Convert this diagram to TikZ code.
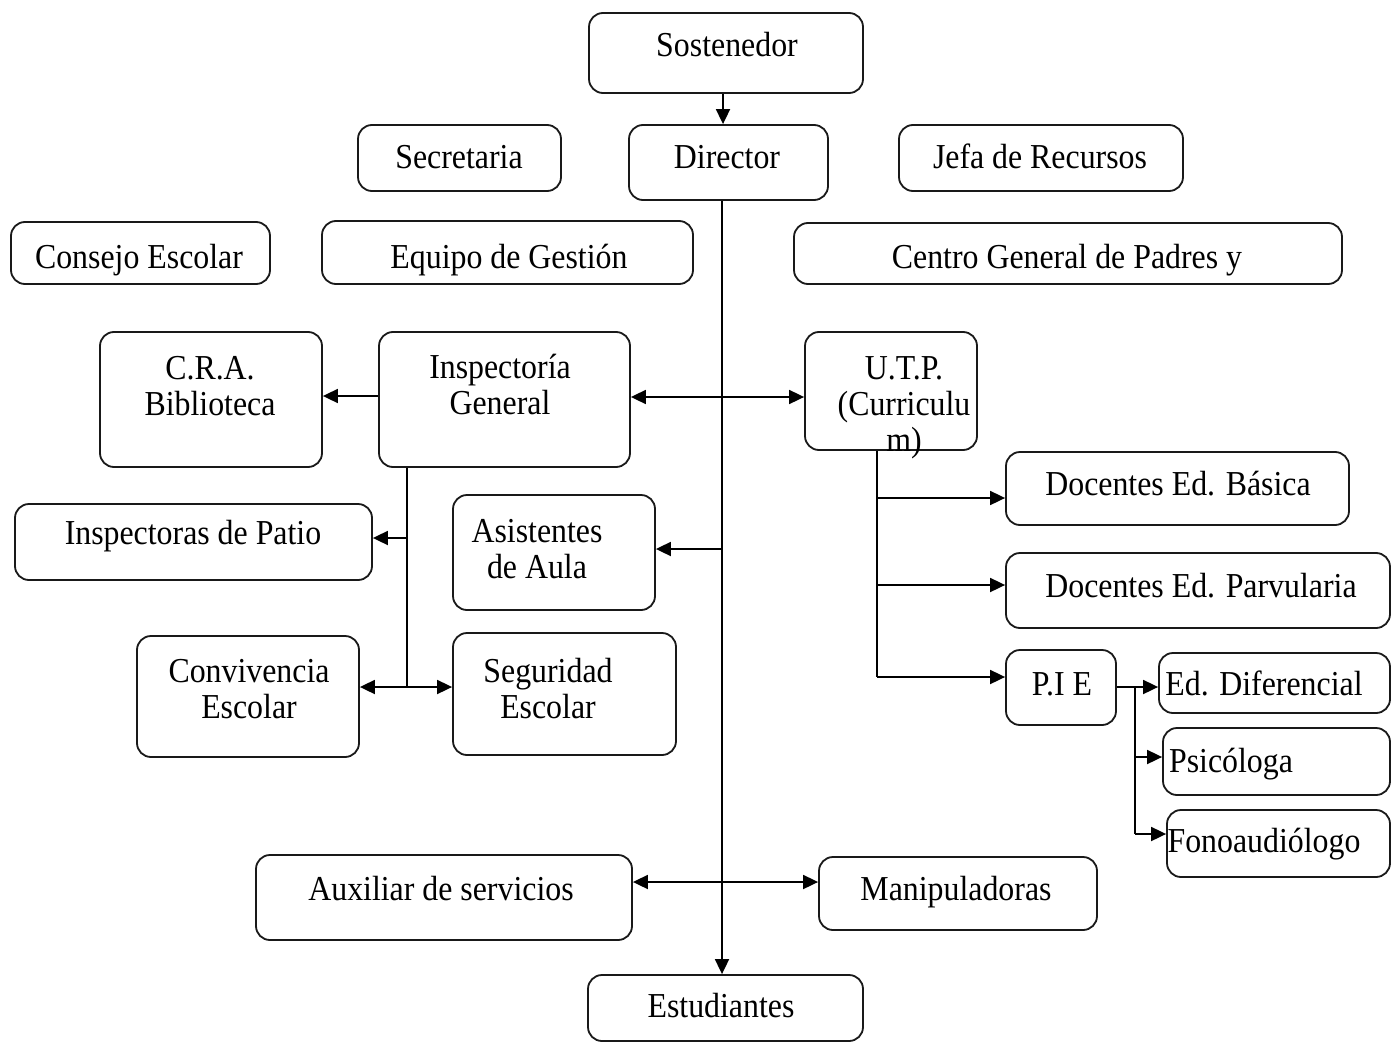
\documentclass[tikz,border=0pt]{standalone}
\usepackage{fontspec}
\setmainfont{Liberation Serif}[FakeStretch=0.91]
\usetikzlibrary{arrows.meta}
\tikzset{
  box/.style={draw=black!90, line width=1.8pt, rounded corners=14pt, inner sep=0pt, fill=white},
  txt/.style={inner sep=0pt, anchor=base, align=center, font=\fontsize{35}{36}\selectfont},
  conn/.style={line width=1.8pt, draw=black},
  arr/.style={conn, -{Triangle[length=15pt,width=14pt]}},
  darr/.style={conn, {Triangle[length=15pt,width=14pt]}-{Triangle[length=15pt,width=14pt]}}
}
\newcommand\mkbox[5]{\node[box,minimum width={(#4-#2)*1pt},minimum height={(#5-#3)*1pt}] (#1) at ({(#2+#4)/2},{(#3+#5)/2}) {};}
\begin{document}
\begin{tikzpicture}[x=1pt,y=-1pt]
\useasboundingbox[fill=white] (0,0) rectangle (1391,1043);
% boxes
\mkbox{sost}{589}{13}{863}{93}
\mkbox{dir}{629}{125}{828}{200}
\mkbox{secr}{358}{125}{561}{191}
\mkbox{jefa}{899}{125}{1183}{191}
\mkbox{cons}{11}{222}{270}{284}
\mkbox{equipo}{322}{221}{693}{284}
\mkbox{centro}{794}{223}{1342}{284}
\mkbox{cra}{100}{332}{322}{467}
\mkbox{insp}{379}{332}{630}{467}
\mkbox{utp}{805}{332}{977}{450}
\mkbox{basica}{1006}{452}{1349}{525}
\mkbox{parv}{1006}{553}{1390}{628}
\mkbox{pie}{1006}{650}{1116}{725}
\mkbox{eddif}{1159}{653}{1390}{713}
\mkbox{psic}{1163}{728}{1390}{795}
\mkbox{fono}{1167}{810}{1390}{877}
\mkbox{patio}{15}{504}{372}{580}
\mkbox{asist}{453}{495}{655}{610}
\mkbox{conv}{137}{636}{359}{757}
\mkbox{seg}{453}{633}{676}{755}
\mkbox{aux}{256}{855}{632}{940}
\mkbox{manip}{819}{857}{1097}{930}
\mkbox{estud}{588}{975}{863}{1041}
% texts
\node[txt] (t-sost) at (727,57) {Sostenedor};
\node[txt] (t-dir) at (727,169) {Director};
\node[txt] (t-secr) at (459,169) {Secretaria};
\node[txt] (t-jefa) at (1040,169) {Jefa de Recursos};
\node[txt] (t-cons) at (139,268) {Consejo Escolar};
\node[txt] (t-equipo) at (509,268) {Equipo de Gestión};
\node[txt] (t-centro) at (1067,268) {Centro General de Padres y};
\node[txt] (t-cra) at (210,415) {C.R.A.\\Biblioteca};
\node[txt] (t-insp) at (500,414) {Inspectoría\\General};
\node[txt] (t-utp) at (904,451) {U.T.P.\\(Curriculu\\m)};
\node[txt] (t-basica) at (1178,495) {Docentes Ed. Básica};
\node[txt] (t-parv) at (1201,597) {Docentes Ed. Parvularia};
\node[txt] (t-pie) at (1062,695) {P.I E};
\node[txt] (t-eddif) at (1264,695) {Ed. Diferencial};
\node[txt] (t-psic) at (1231,772) {Psicóloga};
\node[txt] (t-fono) at (1264,852) {Fonoaudiólogo};
\node[txt] (t-patio) at (193,544) {Inspectoras de Patio};
\node[txt] (t-asist) at (537,578) {Asistentes\\de Aula};
\node[txt] (t-conv) at (249,718) {Convivencia\\Escolar};
\node[txt] (t-seg) at (548,718) {Seguridad\\Escolar};
\node[txt] (t-aux) at (441,900) {Auxiliar de servicios};
\node[txt] (t-manip) at (956,900) {Manipuladoras};
\node[txt] (t-estud) at (721,1017) {Estudiantes};
% coordinates
\coordinate (ibot) at (407,687);
\coordinate (ubot) at (877,677);
\coordinate (pbot) at (1135,834);
% connectors
\draw[arr] (sost.south -| 723,0) -- (dir.north -| 723,0);
\draw[arr] (dir.south -| 722,0) -- (estud.north -| 722,0);
\draw[darr] (insp.east |- 0,397) -- (utp.west |- 0,397);
\draw[arr] (insp.west |- 0,396) -- (cra.east |- 0,396);
\draw[conn] (insp.south -| ibot) -- (ibot);
\draw[arr] (ibot |- 0,538) -- (patio.east |- 0,538);
\draw[darr] (conv.east |- ibot) -- (seg.west |- ibot);
\draw[arr] (722,549) -- (asist.east |- 0,549);
\draw[darr] (aux.east |- 0,882) -- (manip.west |- 0,882);
\draw[conn] (utp.south -| ubot) -- (ubot);
\draw[arr] (ubot |- 0,498) -- (basica.west |- 0,498);
\draw[arr] (ubot |- 0,585) -- (parv.west |- 0,585);
\draw[arr] (ubot) -- (pie.west |- ubot);
\draw[arr] (pie.east |- 0,687) -- (eddif.west |- 0,687);
\draw[conn] (pbot |- 0,687) -- (pbot);
\draw[arr] (pbot |- 0,757) -- (psic.west |- 0,757);
\draw[arr] (pbot) -- (fono.west |- pbot);
\end{tikzpicture}
\end{document}
